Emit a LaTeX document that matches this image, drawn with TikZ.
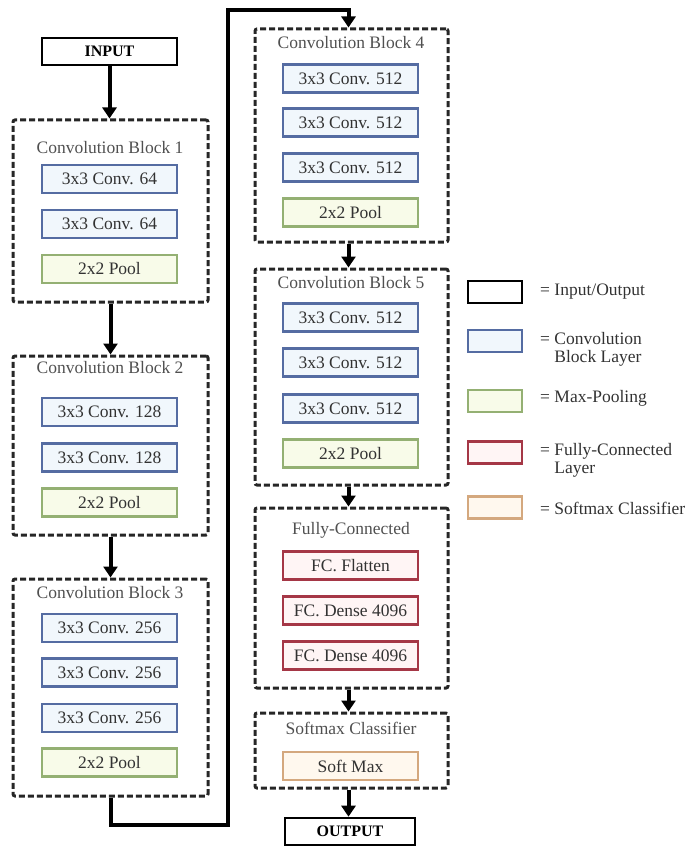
\documentclass[tikz,border=0pt]{standalone}
\usepackage{fontspec}
\setmainfont{Liberation Serif}
\usetikzlibrary{arrows.meta}
\definecolor{txt}{RGB}{50,50,50}
\definecolor{ttl}{RGB}{80,80,80}
\definecolor{cbd}{RGB}{85,108,162}
\definecolor{cfl}{RGB}{241,247,252}
\definecolor{pbd}{RGB}{148,176,115}
\definecolor{pfl}{RGB}{248,251,233}
\definecolor{fbd}{RGB}{165,55,70}
\definecolor{ffl}{RGB}{255,245,245}
\definecolor{sbd}{RGB}{212,168,126}
\definecolor{sfl}{RGB}{255,248,238}
\tikzset{
  every node/.style={font=\fontsize{17.5}{18}\selectfont, text=txt, inner sep=0pt},
  layer/.style={draw, line width=2.6pt, minimum width=135pt, minimum height=28pt},
  convbox/.style={layer, draw=cbd, fill=cfl},
  poolbox/.style={layer, draw=pbd, fill=pfl},
  fcbox/.style={layer, draw=fbd, fill=ffl},
  smbox/.style={layer, draw=sbd, fill=sfl},
  iobox/.style={draw=black, line width=2.6pt, fill=white, minimum height=27pt, font=\fontsize{16}{18}\selectfont\bfseries, text=black},
  block/.style={draw=black!85, line width=3pt, dash pattern=on 6pt off 3pt, rounded corners=2pt},
  title/.style={text=ttl},
  legbox/.style={draw, line width=2.6pt, minimum width=54pt, minimum height=22pt},
  legtxt/.style={anchor=west, align=left},
  arr/.style={line width=4pt, draw=black, line join=miter, -{Triangle[width=14pt,length=11pt]}}
}
\begin{document}
\begin{tikzpicture}[x=1pt,y=-1pt]
\useasboundingbox (0,0) rectangle (697,848);
% left column
\node[iobox, minimum width=135pt] (in) at (109.5,51.5) {INPUT};
\node[block, minimum width=195pt, minimum height=182pt] (b1) at (110.5,211) {};
\node[title] (t1) at (110,148) {Convolution Block 1};
\node[convbox] (b1c1) at (109.5,179) {3x3 Conv. 64};
\node[convbox] (b1c2) at (109.5,224) {3x3 Conv. 64};
\node[poolbox] (b1p) at (109.5,269) {2x2 Pool};

\node[block, minimum width=195pt, minimum height=179pt] (b2) at (110.5,445.5) {};
\node[title] (t2) at (110,368) {Convolution Block 2};
\node[convbox] (b2c1) at (109.5,412) {3x3 Conv. 128};
\node[convbox] (b2c2) at (109.5,457.5) {3x3 Conv. 128};
\node[poolbox] (b2p) at (109.5,502.5) {2x2 Pool};

\node[block, minimum width=195pt, minimum height=217pt] (b3) at (110.5,687.5) {};
\node[title] (t3) at (110,593) {Convolution Block 3};
\node[convbox] (b3c1) at (109.5,628) {3x3 Conv. 256};
\node[convbox] (b3c2) at (109.5,672.5) {3x3 Conv. 256};
\node[convbox] (b3c3) at (109.5,718) {3x3 Conv. 256};
\node[poolbox] (b3p) at (109.5,762.5) {2x2 Pool};

% right column
\node[block, minimum width=193pt, minimum height=213pt] (b4) at (351.5,135.5) {};
\node[title] (t4) at (351,43) {Convolution Block 4};
\node[convbox] (b4c1) at (350.5,78.5) {3x3 Conv. 512};
\node[convbox] (b4c2) at (350.5,122.5) {3x3 Conv. 512};
\node[convbox] (b4c3) at (350.5,167.5) {3x3 Conv. 512};
\node[poolbox] (b4p) at (350.5,212.5) {2x2 Pool};

\node[block, minimum width=193pt, minimum height=216pt] (b5) at (351.5,377) {};
\node[title] (t5) at (351,283) {Convolution Block 5};
\node[convbox] (b5c1) at (350.5,317.5) {3x3 Conv. 512};
\node[convbox] (b5c2) at (350.5,362.5) {3x3 Conv. 512};
\node[convbox] (b5c3) at (350.5,408.5) {3x3 Conv. 512};
\node[poolbox] (b5p) at (350.5,453.5) {2x2 Pool};

\node[block, minimum width=193pt, minimum height=180pt] (fc) at (351.5,598) {};
\node[title] (t6) at (351,530) {Fully-Connected};
\node[fcbox] (fc1) at (350.5,565.5) {FC. Flatten};
\node[fcbox] (fc2) at (350.5,610.5) {FC. Dense 4096};
\node[fcbox] (fc3) at (350.5,655.5) {FC. Dense 4096};

\node[block, minimum width=193pt, minimum height=75pt] (sm) at (351.5,750.5) {};
\node[title] (t7) at (351,728) {Softmax Classifier};
\node[smbox] (sm1) at (350.5,766) {Soft Max};

\node[iobox, minimum width=130pt] (out) at (350,831.5) {OUTPUT};

% connectors
\draw[arr] (in.south) -- (in.south |- b1.north);
\draw[arr] (b1.south) -- (b2.north);
\draw[arr] (b2.south) -- (b3.north);
\coordinate (c1) at (228,825);
\coordinate (c2) at (228,10);
\draw[arr] (b3.south) |- (c1) -- (c2) -| ([xshift=-3pt]b4.north);
\draw[arr] ([xshift=-3pt]b4.south) -- ([xshift=-3pt]b5.north);
\draw[arr] ([xshift=-3pt]b5.south) -- ([xshift=-3pt]fc.north);
\draw[arr] ([xshift=-3pt]fc.south) -- ([xshift=-3pt]sm.north);
\draw[arr] ([xshift=-3pt]sm.south) -- ([xshift=-3pt]sm.south |- out.north);

% legend
\node[legbox, draw=black, fill=white] (l1) at (495,292) {};
\node[legtxt] (lt1) at (540,292) {= Input/Output};
\node[legbox, draw=cbd, fill=cfl] (l2) at (495,341) {};
\node[legtxt] (lt2) at (540,349) {= Convolution\\\phantom{= }Block Layer};
\node[legbox, draw=pbd, fill=pfl] (l3) at (495,401) {};
\node[legtxt] (lt3) at (540,398) {= Max-Pooling};
\node[legbox, draw=fbd, fill=ffl] (l4) at (495,452.5) {};
\node[legtxt] (lt4) at (540,460) {= Fully-Connected\\\phantom{= }Layer};
\node[legbox, draw=sbd, fill=sfl] (l5) at (495,507.5) {};
\node[legtxt] (lt5) at (540,508) {= Softmax Classifier};
\end{tikzpicture}
\end{document}
